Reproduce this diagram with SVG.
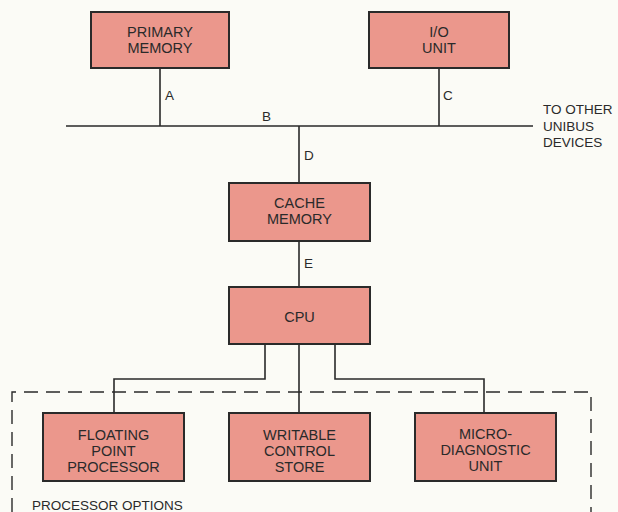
<svg xmlns="http://www.w3.org/2000/svg" width="618" height="512" viewBox="0 0 618 512">
<style>
.box{fill:#eb978c;stroke:#2a2a2a;stroke-width:2}
.t{font-family:"Liberation Sans",Arial,sans-serif;font-size:14.5px;fill:#2a2a2a;text-anchor:middle}
.l{font-family:"Liberation Sans",Arial,sans-serif;font-size:13.5px;fill:#2a2a2a}
.w{stroke:#2a2a2a;stroke-width:1.6;fill:none}
.d{stroke:#2a2a2a;stroke-width:1.4;fill:none;stroke-dasharray:14 8}
</style>
<rect width="618" height="512" fill="#fbfbf6"/>
<g id="connectors">
<path class="w" d="M66 126H533M160 68V126M439 68V126M299 126V183M299 241V288"/>
<path class="w" d="M265 344V379H114V413M299 344V413M335 344V379H484V413"/>
</g>
<g id="labels">
<text class="l" x="165" y="100">A</text>
<text class="l" x="262" y="121">B</text>
<text class="l" x="443" y="100">C</text>
<text class="l" x="304" y="160">D</text>
<text class="l" x="304" y="268">E</text>
<text class="l" x="543" y="114" font-size="14px">TO OTHER</text>
<text class="l" x="543" y="131" font-size="14px">UNIBUS</text>
<text class="l" x="543" y="147" font-size="14px">DEVICES</text>
</g>
<g id="processor-options">
<path class="d" d="M12 512V392H591V512"/>
<text class="l" x="32" y="510" font-size="14.5px">PROCESSOR OPTIONS</text>
</g>
<g id="primary-memory">
<rect class="box" x="91" y="12" width="138" height="56"/>
<text class="t" x="160" y="37">PRIMARY</text>
<text class="t" x="160" y="53">MEMORY</text>
</g>
<g id="io-unit">
<rect class="box" x="369" y="12" width="140" height="56"/>
<text class="t" x="439" y="37">I/O</text>
<text class="t" x="439" y="53">UNIT</text>
</g>
<g id="cache-memory">
<rect class="box" x="229" y="183" width="141" height="58"/>
<text class="t" x="299.5" y="208">CACHE</text>
<text class="t" x="299.5" y="224">MEMORY</text>
</g>
<g id="cpu">
<rect class="box" x="229" y="287" width="141" height="57"/>
<text class="t" x="299.5" y="322" font-size="15px">CPU</text>
</g>
<g id="floating-point-processor">
<rect class="box" x="43" y="413" width="141" height="68"/>
<text class="t" x="113.5" y="440">FLOATING</text>
<text class="t" x="113.5" y="456">POINT</text>
<text class="t" x="113.5" y="472">PROCESSOR</text>
</g>
<g id="writable-control-store">
<rect class="box" x="229" y="413" width="141" height="68"/>
<text class="t" x="299.5" y="440">WRITABLE</text>
<text class="t" x="299.5" y="456">CONTROL</text>
<text class="t" x="299.5" y="472">STORE</text>
</g>
<g id="micro-diagnostic-unit">
<rect class="box" x="415" y="413" width="141" height="68"/>
<text class="t" x="485.5" y="439">MICRO-</text>
<text class="t" x="485.5" y="455">DIAGNOSTIC</text>
<text class="t" x="485.5" y="471">UNIT</text>
</g>
</svg>
